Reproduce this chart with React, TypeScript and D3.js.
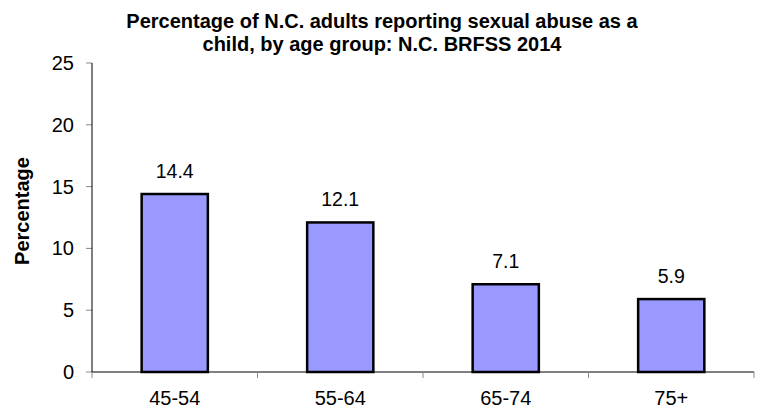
import React from "react";
import * as d3 from "d3";

const categories = ["45-54", "55-64", "65-74", "75+"];
const values = [14.4, 12.1, 7.1, 5.9];
const yTicks = [0, 5, 10, 15, 20, 25];
const titleLines = [
  "Percentage of N.C. adults reporting sexual abuse as a",
  "child, by age group: N.C. BRFSS 2014",
];
const yLabel = "Percentage";

export default function App() {
  const W = 760, H = 409;
  const left = 92, right = 754, top = 63, bottom = 372;
  const x = d3.scaleBand<string>().domain(categories).range([left, right]).paddingInner(0.6).paddingOuter(0.3);
  const xb = d3.scaleBand<string>().domain(categories).range([left, right]);
  const y = d3.scaleLinear().domain([0, 25]).range([bottom, top]);
  const font = "Arial, 'Liberation Sans', sans-serif";
  return (
    <svg width={W} height={H} style={{ position: "absolute", left: 0, top: 0, background: "#fff" }} fontFamily={font}>
      {titleLines.map((t, i) => (
        <text key={i} x={382} y={28 + i * 23} textAnchor="middle" fontWeight="bold" fontSize={20}>{t}</text>
      ))}
      <text transform={`translate(29,${211}) rotate(-90)`} textAnchor="middle" fontWeight="bold" fontSize={20}>{yLabel}</text>
      {yTicks.map((t) => (
        <g key={t}>
          <line x1={86} x2={left} y1={y(t)} y2={y(t)} stroke="#888" strokeWidth={1} />
          <text x={74} y={y(t) + 7} textAnchor="end" fontSize={20}>{t}</text>
        </g>
      ))}
      {values.map((v, i) => (
        <g key={i}>
          <rect x={x(categories[i])!} y={y(v)} width={x.bandwidth()} height={bottom - y(v)} fill="#9999FF" stroke="#000" strokeWidth={2.5} />
          <text x={x(categories[i])! + x.bandwidth() / 2} y={y(v) - 16} textAnchor="middle" fontSize={19.5}>{v.toFixed(1)}</text>
        </g>
      ))}
      <line x1={left} x2={left} y1={top} y2={bottom} stroke="#000" strokeWidth={1} />
      <line x1={left} x2={right} y1={bottom} y2={bottom} stroke="#000" strokeWidth={1} />
      {categories.map((c, i) => (
        <line key={i} x1={xb(c)!} x2={xb(c)!} y1={bottom} y2={bottom + 6} stroke="#888" />
      ))}
      <line x1={right} x2={right} y1={bottom} y2={bottom + 6} stroke="#888" />
      {categories.map((c) => (
        <text key={c} x={xb(c)! + xb.bandwidth() / 2} y={405} textAnchor="middle" fontSize={20}>{c}</text>
      ))}
    </svg>
  );
}
